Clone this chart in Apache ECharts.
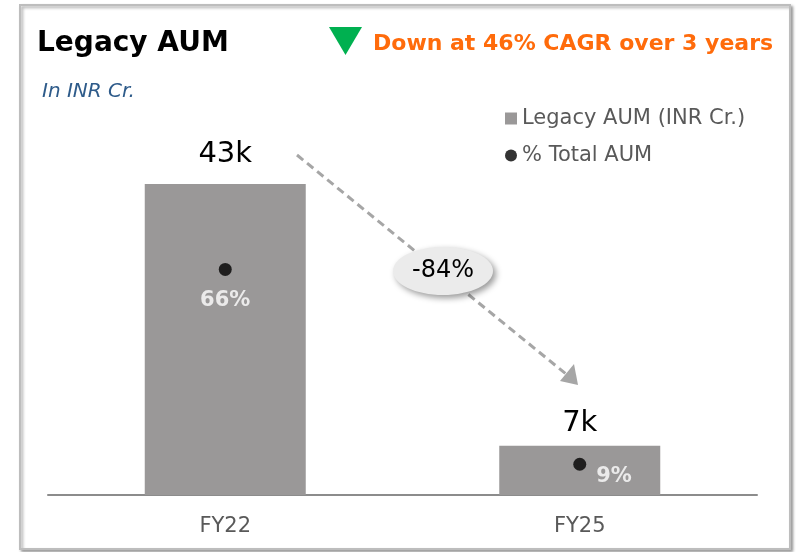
<!DOCTYPE html>
<html>
<head>
<meta charset="utf-8">
<script src="https://cdn.jsdelivr.net/npm/echarts@6/dist/echarts.min.js"></script>
<style>
  html, body { margin: 0; padding: 0; background: #fff; }
  #chart { width: 802px; height: 552px; }
</style>
</head>
<body>
<div id="chart"></div>
<script>
// chart data
const categories = ['FY22', 'FY25'];
const legacyAum = [43000, 6800];      // INR Cr.
const pctTotalAum = [66, 9];          // % of total AUM
const changeLabel = '-84%';
const cagrText = 'Down at 46% CAGR over 3 years';

const FONT = 'DejaVu Sans';
const BAR_GREY = '#9a9898';

let chart = echarts.init(document.getElementById('chart'));

let option = {
    backgroundColor: '#fff',
    textStyle: { fontFamily: FONT },
    animation: false,
    title: [
        {
            text: 'Legacy AUM',
            left: 32, top: 25,
            textStyle: { fontFamily: FONT, fontSize: 28, fontWeight: 'bold', color: '#000' }
        },
        {
            text: 'In INR Cr.',
            left: 37, top: 77,
            textStyle: { fontFamily: FONT, fontSize: 20, fontStyle: 'italic', fontWeight: 'normal', color: '#2e5b8a' }
        },
        {
            text: cagrText,
            left: 368, top: 28,
            textStyle: { fontFamily: FONT, fontSize: 22, fontWeight: 'bold', color: '#ff6b0b' }
        }
    ],
    legend: {
        orient: 'vertical',
        left: 500, top: 103,
        itemWidth: 12, itemHeight: 12,
        itemGap: 16,
        textStyle: { fontFamily: FONT, fontSize: 21, color: '#595959', lineHeight: 21 },
        data: [
            { name: 'Legacy AUM (INR Cr.)', icon: 'rect' },
            { name: '% Total AUM', icon: 'circle' }
        ]
    },
    grid: { left: 48, right: 45, top: 61, bottom: 57 },
    xAxis: {
        type: 'category',
        data: categories,
        axisTick: { show: false },
        axisLine: { lineStyle: { color: '#8c8c8c', width: 2 } },
        axisLabel: { fontFamily: FONT, fontSize: 21, color: '#595959', margin: 21 }
    },
    yAxis: [
        { type: 'value', min: 0, max: 60000, show: false, splitLine: { show: false } },
        { type: 'value', min: 0, max: 127, show: false, splitLine: { show: false } }
    ],
    series: [
        {
            name: 'Legacy AUM (INR Cr.)',
            type: 'bar',
            data: legacyAum.map((v, i) => ({
                value: v,
                label: { distance: i === 0 ? 15 : 8 }
            })),
            barWidth: 161,
            itemStyle: { color: BAR_GREY },
            label: {
                show: true,
                position: 'top',
                fontFamily: FONT,
                fontSize: 29,
                color: '#000',
                formatter: p => Math.round(p.value / 1000) + 'k'
            }
        },
        {
            name: '% Total AUM',
            type: 'scatter',
            yAxisIndex: 1,
            symbolSize: 13,
            itemStyle: { color: '#000' },
            data: pctTotalAum.map((v, i) => ({
                value: v,
                label: i === 0
                    ? { position: 'bottom', distance: 14 }
                    : { position: 'right', distance: 10, offset: [0, 12] }
            })),
            label: {
                show: true,
                fontFamily: FONT,
                fontSize: 21,
                fontWeight: 'bold',
                color: '#fff',
                formatter: p => p.value + '%'
            }
        }
    ],
    graphic: [
        {
            type: 'rect',
            z: -10,
            shape: { x: 20, y: 5, width: 770, height: 544 },
            style: {
                fill: '#fff', stroke: '#bdbdbd', lineWidth: 2,
                shadowColor: 'rgba(0,0,0,0.35)', shadowBlur: 3, shadowOffsetX: 2, shadowOffsetY: 2
            }
        },
        {
            type: 'polygon',
            shape: { points: [[329, 27], [362, 27], [345.5, 55]] },
            style: { fill: '#00b050' }
        },
        {
            type: 'line',
            z: 50,
            shape: { x1: 297, y1: 155, x2: 566, y2: 374 },
            style: { stroke: '#a6a6a6', lineWidth: 3, lineDash: [8, 5] }
        },
        {
            type: 'polygon',
            z: 50,
            shape: { points: [[578, 385], [560, 381], [574, 364]] },
            style: { fill: '#a6a6a6' }
        },
        {
            type: 'ellipse',
            z: 60,
            shape: { cx: 443, cy: 271, rx: 50, ry: 24 },
            style: {
                fill: '#ebebeb',
                shadowColor: 'rgba(0,0,0,0.4)', shadowBlur: 6, shadowOffsetX: 3, shadowOffsetY: 3
            }
        },
        {
            type: 'text',
            z: 61,
            x: 443, y: 271,
            style: {
                text: changeLabel,
                fontFamily: FONT, fontSize: 24, fill: '#000',
                align: 'center', verticalAlign: 'middle'
            }
        }
    ]
};

chart.setOption(option, true);
</script>
</body>
</html>
